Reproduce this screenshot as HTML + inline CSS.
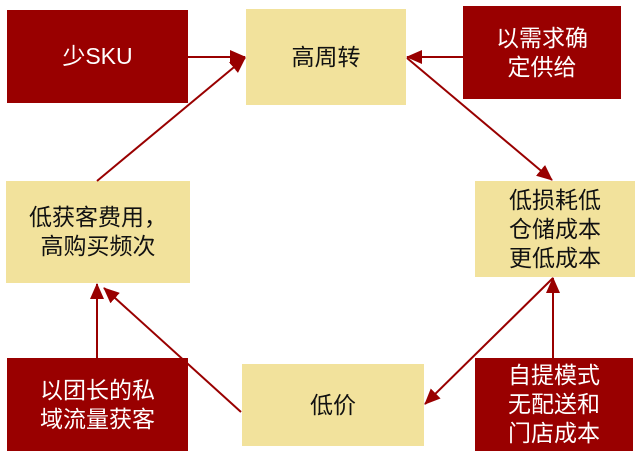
<html><head><style>
body{margin:0;width:640px;height:469px;background:#fff;overflow:hidden;position:relative;font-family:"Liberation Sans","Noto Sans CJK SC",sans-serif}
.b{position:absolute;display:flex;align-items:center;justify-content:center;text-align:center;font-size:23px;line-height:29px}
.r{background:#990000;color:#fff}
.y{background:#f2e29c;color:#111}
svg{position:absolute;left:0;top:0}
</style></head><body>
<div class="b r" style="left:7px;top:10px;width:181px;height:93px">少SKU</div>
<div class="b y" style="left:246px;top:9px;width:160px;height:96px">高周转</div>
<div class="b r" style="left:463px;top:6px;width:158px;height:93px">以需求确<br>定供给</div>
<div class="b y" style="left:6px;top:181px;width:184px;height:102px">低获客费用，<br>高购买频次</div>
<div class="b y" style="left:475px;top:181px;width:160px;height:96px">低损耗低<br>仓储成本<br>更低成本</div>
<div class="b r" style="left:7px;top:358px;width:181px;height:93px">以团长的私<br>域流量获客</div>
<div class="b y" style="left:242px;top:364px;width:182px;height:82px">低价</div>
<div class="b r" style="left:475px;top:358px;width:158px;height:93px">自提模式<br>无配送和<br>门店成本</div>
<svg width="640" height="469">
<defs><marker id="a" markerWidth="16" markerHeight="14" refX="15" refY="7" orient="auto" markerUnits="userSpaceOnUse"><path d="M0,0L16,7L0,14z" fill="#990000"/></marker></defs>
<g stroke="#990000" stroke-width="2" fill="none" marker-end="url(#a)">
<line x1="188" y1="57" x2="245" y2="57"/>
<line x1="463" y1="57" x2="407" y2="57"/>
<line x1="407" y1="58" x2="552" y2="180"/>
<line x1="97" y1="181" x2="245" y2="58"/>
<line x1="553" y1="278" x2="425" y2="404"/>
<line x1="553" y1="358" x2="553" y2="278"/>
<line x1="97" y1="358" x2="97" y2="284"/>
<line x1="241" y1="412" x2="104" y2="288"/>
</g></svg>
</body></html>
